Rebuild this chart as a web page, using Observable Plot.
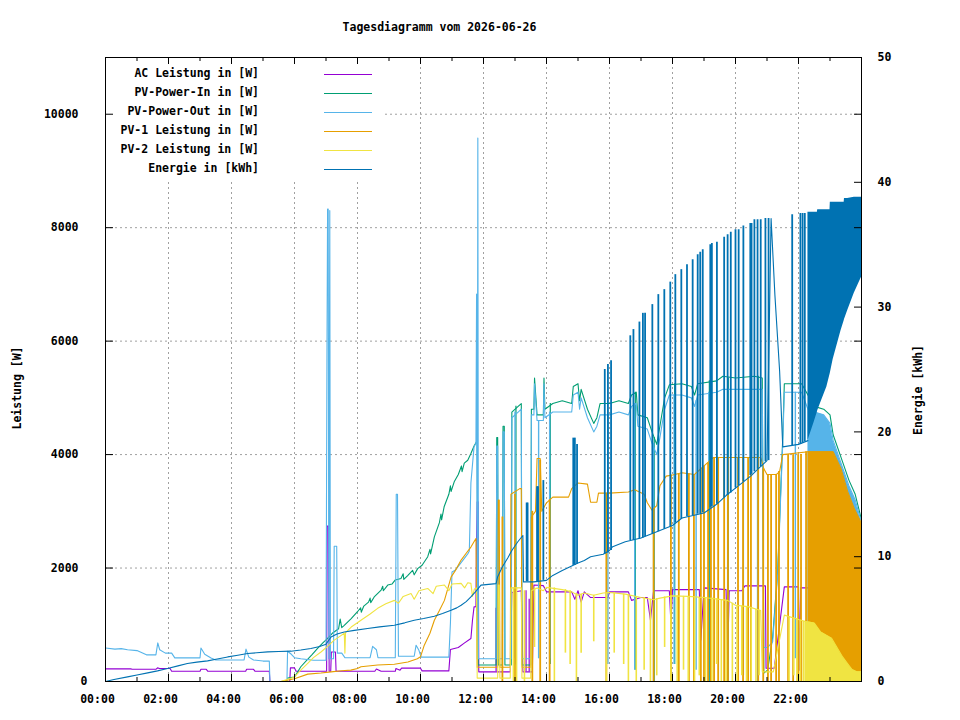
<!DOCTYPE html>
<html><head><meta charset="utf-8">
<script src="https://cdn.jsdelivr.net/npm/d3@7"></script>
<script src="https://cdn.jsdelivr.net/npm/@observablehq/plot@0.6"></script>
<style>
html,body{margin:0;padding:0;background:#fff;overflow:hidden;}
#wrap{position:relative;width:960px;height:720px;font-family:"DejaVu Sans Mono",monospace;font-weight:bold;font-size:11.5px;color:#000;}
#wrap svg{position:absolute;left:0;top:0;}
.lbl{position:absolute;white-space:pre;line-height:12px;}
#keybox{position:absolute;left:105px;top:57px;width:278px;height:123px;background:#fff;}
.ksw{position:absolute;height:1px;}
</style></head><body><div id="wrap"></div>
<script>
// ---------- labels ----------
const title = "Tagesdiagramm vom 2026-06-26";
const yLabel = "Leistung [W]";
const y2Label = "Energie [kWh]";
const seriesNames = ["AC Leistung in [W]","PV-Power-In in [W]","PV-Power-Out in [W]","PV-1 Leistung in [W]","PV-2 Leistung in [W]","Energie in [kWh]"];
const seriesColors = ["#9400d3","#009e73","#56b4e9","#e69f00","#f0e442","#0072b2"];

// ---------- ticks ----------
const xMajor = [0,2,4,6,8,10,12,14,16,18,20,22];
const xMinor = [1,3,5,7,9,11,13,15,17,19,21,23];
const xTickLabels = ["00:00","02:00","04:00","06:00","08:00","10:00","12:00","14:00","16:00","18:00","20:00","22:00"];
const yTicks = [0,2000,4000,6000,8000,10000];
const y2Ticks = [0,10,20,30,40,50];
const yMax = 11000, y2Max = 50;

// ---------- data: [hour, W] ----------
const acLine = [[0,222],[0.8,222],[0.85,215],[1.6,215],[1.65,240],[1.72,230],[2.05,230],[2.1,180],[3.0,180],[3.03,215],[3.2,215],[3.25,180],[4.45,180],[4.48,215],[4.7,215],[4.75,180],[5.2,180],[5.22,0],[5.85,0],[5.87,240],[6.0,240],[6.05,180],[7.02,180],[7.04,2740],[7.08,2740],[7.1,180],[7.15,180],[7.17,520],[7.3,520],[7.32,180],[8.55,180],[8.6,220],[8.75,180],[9.2,180],[9.22,230],[9.35,200],[9.4,235],[10.0,235],[10.05,187],[10.9,187],[10.95,564],[11.2,600],[11.4,680],[11.6,758],[11.65,1080],[11.7,1315],[11.76,1320],[11.78,2520],[11.8,3166],[11.83,3166],[11.85,170],[12.85,170],[12.9,1570],[13.2,1600],[13.25,170],[13.55,170],[13.6,1700],[13.9,1690],[14.0,1580],[14.8,1580],[14.9,1450],[15.0,1600],[15.1,1400],[15.2,1580],[15.4,1480],[15.95,1480],[16.0,1580],[16.6,1580],[16.7,1430],[17.0,1480],[17.2,1480],[17.3,1080],[17.4,1600],[17.9,1600],[17.95,1030],[18.0,1620],[18.85,1620],[18.9,730],[19.0,1650],[19.7,1620],[19.75,375],[19.8,1600],[20.2,1600],[20.3,1685],[20.95,1685],[20.97,234],[21.23,234],[21.55,1668],[22.0,1668],[22.03,200],[22.07,1650],[22.45,1650],[22.5,1300],[22.55,1650],[22.7,1650]];
const acSpikes = [[12.4,170,1290],[13.35,170,1600],[13.45,170,1450]];

const pvInLine = [[5.78,60],[6.0,80],[6.2,260],[6.4,380],[6.55,470],[6.74,590],[6.9,680],[7.05,760],[7.2,850],[7.4,930],[7.45,1100],[7.5,950],[7.58,990],[7.8,1110],[8.0,1230],[8.1,1300],[8.12,1220],[8.2,1330],[8.35,1400],[8.4,1470],[8.42,1390],[8.53,1490],[8.75,1610],[8.8,1680],[8.82,1600],[8.96,1700],[9.1,1720],[9.2,1790],[9.38,1815],[9.45,1900],[9.47,1800],[9.6,1870],[9.75,1960],[9.8,1880],[9.91,1990],[10.05,2050],[10.23,2200],[10.3,2330],[10.32,2250],[10.44,2550],[10.6,2800],[10.65,2950],[10.67,2850],[10.75,3080],[10.9,3300],[10.95,3450],[10.97,3350],[11.07,3520],[11.2,3650],[11.3,3800],[11.32,3700],[11.39,3850],[11.5,3900],[11.6,4020],[11.7,4150],[11.8,4250],[11.83,290],[12.4,290],[12.42,4300],[12.45,4300],[12.47,290],[12.6,290],[12.62,4500],[12.66,4500],[12.68,290],[12.88,290],[12.9,4750],[13.1,4850],[13.2,4900],[13.22,290],[13.5,290],[13.52,4800],[13.6,4800],[13.62,5350],[13.7,4700],[13.9,4700],[13.92,5350],[13.95,4800],[14.2,4900],[14.5,4950],[14.8,4900],[14.85,5200],[15.0,5250],[15.05,4950],[15.1,5150],[15.3,4800],[15.5,4550],[15.6,4650],[15.7,4900],[16.0,4900],[16.3,4950],[16.6,4900],[16.7,5050],[16.85,5100],[16.9,4700],[17.2,4650],[17.35,4400],[17.5,4180],[17.6,4500],[17.75,5000],[17.9,5230],[18.3,5250],[18.6,5200],[18.7,5050],[18.8,5250],[19.4,5300],[19.6,5380],[20.0,5350],[20.6,5380],[20.85,5350],[20.9,150],[21.02,200],[21.18,780],[21.34,1960],[21.42,3140],[21.5,4300],[21.55,5250],[22.1,5250],[22.3,5050],[22.5,4850],[22.8,4800],[23.0,4700],[23.1,4350],[23.35,3950],[23.6,3550],[23.8,3300],[24,2850]];
const pvInDrops = [[13.03,290,4850],[14.12,300,4900],[16.82,200,5100],[17.42,0,4300],[18.07,300,5250],[19.17,0,5300],[19.77,0,5350],[20.72,0,5380]];

const pvOutLine = [[0,590],[0.3,570],[0.5,580],[0.7,560],[1.0,545],[1.3,470],[1.6,470],[1.66,680],[1.72,560],[1.9,500],[2.1,500],[2.2,416],[3.0,416],[3.03,590],[3.15,480],[3.35,416],[3.5,380],[4.4,380],[4.46,570],[4.55,430],[4.7,380],[5.0,360],[5.2,360],[5.22,0],[5.76,0],[5.78,534],[5.9,480],[6.0,420],[6.2,400],[6.6,375],[7.0,375],[7.03,5700],[7.05,8330],[7.07,8330],[7.09,400],[7.12,8300],[7.14,400],[7.24,400],[7.26,2385],[7.34,2385],[7.36,500],[7.5,500],[7.6,420],[8.4,420],[8.48,620],[8.6,560],[8.65,420],[9.2,420],[9.23,3300],[9.27,3300],[9.3,445],[9.8,445],[9.86,640],[9.95,550],[10.02,430],[10.9,430],[10.95,1030],[11.0,1930],[11.1,1960],[11.35,2140],[11.5,2250],[11.55,2300],[11.6,3500],[11.7,4140],[11.76,4200],[11.78,6830],[11.8,400],[11.82,9580],[11.84,400],[12.4,400],[12.42,4150],[12.45,4150],[12.47,400],[12.6,400],[12.62,4400],[12.66,4400],[12.68,400],[12.88,400],[12.9,4650],[13.1,4750],[13.2,4800],[13.22,400],[13.5,400],[13.52,4700],[13.6,4700],[13.62,5250],[13.7,4600],[13.9,4600],[13.92,5250],[13.95,4650],[14.2,4750],[14.5,4750],[14.8,4750],[14.85,5050],[15.0,5100],[15.05,4800],[15.1,5000],[15.3,4650],[15.5,4400],[15.6,4500],[15.7,4700],[16.0,4700],[16.3,4750],[16.6,4700],[16.7,4850],[16.85,4900],[16.9,4500],[17.2,4450],[17.35,4200],[17.5,4000],[17.6,4300],[17.75,4800],[17.9,5050],[18.3,5050],[18.6,5000],[18.7,4850],[18.8,5050],[19.4,5100],[19.6,5150],[20.0,5150],[20.6,5150],[20.85,5150],[20.9,600],[21.02,600],[21.18,700],[21.34,1900],[21.42,3050],[21.5,4200],[21.55,5100],[22.1,5100],[22.3,4800],[22.5,4750],[22.8,4700],[23.0,4550],[23.1,4250],[23.35,3850],[23.6,3450],[23.8,3200],[24,2800]];
const pvOutDrops = [[13.0,400,4750],[13.75,400,4600],[14.1,400,4750],[15.95,300,4700],[16.8,200,4900],[17.4,0,4200],[18.05,300,5050],[18.75,200,4950],[19.15,0,5100],[19.75,0,5150],[20.25,100,5150],[20.7,0,5150],[21.9,400,5100]];

const pv1Line = [[5.57,0],[6.0,50],[6.42,130],[6.84,150],[7.16,170],[7.5,190],[7.79,200],[8.0,230],[8.11,260],[8.64,290],[9.17,305],[9.6,345],[9.9,400],[10.0,435],[10.12,640],[10.3,850],[10.44,1080],[10.6,1250],[10.76,1430],[10.97,1840],[11.1,1950],[11.29,2140],[11.45,2260],[11.6,2370],[11.76,2520],[11.8,250],[12.45,250],[12.47,3200],[12.5,3200],[12.52,250],[12.85,250],[12.87,3300],[13.15,3400],[13.2,3400],[13.22,250],[13.5,250],[13.52,2900],[13.65,3000],[13.7,3930],[13.8,3930],[13.85,3000],[14.0,3150],[14.2,3250],[14.7,3250],[14.8,3400],[15.0,3500],[15.3,3480],[15.4,3160],[15.6,3160],[15.65,3320],[16.0,3320],[16.6,3340],[16.8,3380],[17.1,3300],[17.2,3150],[17.35,3020],[17.5,3100],[17.6,3450],[17.8,3620],[18.0,3640],[18.3,3680],[18.7,3650],[18.9,3750],[19.1,3850],[19.3,3950],[20.0,3950],[20.8,3950],[20.9,3750],[21.0,3650],[21.3,3650],[21.4,3700],[21.5,4000],[22.3,4050],[23.1,4050],[23.35,3750],[23.56,3350],[23.77,3050],[24,2790]];
const pv1Drops = [[12.6,0,2900],[13.0,0,3300],[13.55,0,3000],[13.8,0,3900],[14.1,0,3200],[15.9,0,3320],[17.4,0,3050],[17.95,0,3640],[18.2,0,3650],[18.52,0,3660],[18.68,0,3650],[18.9,0,3750],[19.0,0,3800],[19.13,0,3850],[19.22,0,3900],[19.32,0,3950],[19.45,0,3950],[19.64,0,3950],[19.76,0,3950],[20.08,0,3950],[20.24,0,3950],[20.4,0,3950],[20.49,0,3950],[20.72,0,3950],[20.88,0,3750],[21.03,0,3650],[21.13,0,3650],[21.29,0,3650],[21.38,0,3700],[21.67,0,4000],[21.83,0,4000],[21.99,0,4000],[22.08,0,4000],[22.24,0,4050]];

const pv2Line = [[5.57,0],[6.0,80],[6.2,200],[6.42,320],[6.6,420],[6.84,520],[7.05,620],[7.26,730],[7.45,800],[7.58,850],[7.6,500],[7.62,860],[7.8,960],[8.11,1080],[8.4,1190],[8.64,1290],[8.9,1370],[9.17,1430],[9.3,1380],[9.45,1500],[9.7,1550],[9.8,1450],[9.95,1600],[10.23,1640],[10.4,1550],[10.5,1680],[10.76,1700],[10.9,1600],[11.0,1720],[11.29,1730],[11.4,1650],[11.5,1740],[11.6,1730],[11.65,1500],[11.71,1630],[11.78,1650],[11.8,60],[12.45,60],[12.47,1700],[12.5,1700],[12.52,60],[12.85,60],[12.87,1650],[13.2,1650],[13.22,60],[13.5,60],[13.52,1600],[13.7,1650],[13.9,1600],[14.0,1660],[14.5,1620],[14.8,1580],[15.0,1520],[15.2,1560],[15.5,1520],[15.8,1560],[16.0,1570],[16.5,1540],[17.0,1480],[17.4,1440],[17.6,1470],[18.0,1510],[18.5,1500],[19.0,1480],[19.75,1430],[20.0,1345],[20.4,1320],[20.8,1250],[20.85,170],[21.2,170],[21.55,1170],[22.08,1080],[22.2,1060],[22.5,1030],[22.7,875],[23.05,763],[23.2,620],[23.4,433],[23.55,322],[23.7,211],[23.85,170],[24,170]];
const pv2Drops = [[12.95,0,1650],[13.05,0,1650],[13.3,0,1600],[13.62,600,1650],[14.25,0,1650],[14.6,500,1620],[14.75,300,1600],[14.95,0,1550],[15.1,500,1540],[15.5,700,1520],[15.9,0,1560],[16.15,500,1570],[16.45,300,1540],[16.6,0,1530],[16.85,0,1500],[17.1,200,1480],[17.3,0,1450],[17.5,100,1460],[17.75,600,1490],[17.95,0,1510],[18.15,0,1510],[18.35,200,1500],[18.5,0,1500],[18.7,0,1490],[18.85,100,1480],[19.05,0,1480],[19.25,0,1470],[19.4,300,1460],[19.55,0,1440],[19.7,0,1430],[19.9,0,1380],[20.05,0,1345],[20.2,100,1330],[20.35,0,1320],[20.5,0,1300],[20.65,0,1270],[20.75,100,1250],[21.7,0,1140],[21.85,100,1120],[21.95,0,1100],[22.05,0,1080],[22.15,0,1060]];

// ---------- data: [hour, kWh] ----------
const enLine = [[0,0],[0.27,0.16],[0.7,0.37],[1.0,0.52],[1.34,0.69],[1.65,0.85],[1.97,1.04],[2.3,1.25],[2.6,1.44],[2.9,1.55],[3.24,1.65],[3.55,1.8],[3.88,1.97],[4.2,2.1],[4.51,2.24],[4.8,2.3],[5.15,2.37],[5.5,2.4],[5.89,2.43],[6.2,2.52],[6.52,2.64],[6.8,2.8],[7.0,2.99],[7.16,3.57],[7.35,3.8],[7.58,3.97],[7.9,4.1],[8.32,4.25],[8.7,4.38],[9.17,4.51],[9.5,4.7],[9.8,4.91],[10.1,5.05],[10.44,5.23],[10.7,5.45],[10.97,5.71],[11.15,5.9],[11.29,6.11],[11.45,6.4],[11.6,6.78],[11.75,7.2],[11.92,7.72],[12.4,7.84],[12.45,8.4],[12.6,9.2],[12.77,9.9],[12.9,10.5],[13.09,11.2],[13.25,11.7],[13.27,7.98],[13.6,7.98],[14.0,8.1],[14.2,8.5],[14.5,8.9],[14.75,9.2],[15.0,9.5],[15.2,9.7],[15.4,10.0],[15.8,10.2],[16.0,10.5],[16.1,10.8],[16.5,11.2],[17.0,11.5],[17.3,11.8],[17.6,12.1],[18.0,12.5],[18.3,13.1],[19.0,13.5],[19.4,14.2],[19.7,14.9],[20.1,15.7],[20.5,16.5],[20.7,17.0],[21.0,17.7],[21.13,37.1],[21.25,31.0],[21.4,24.9],[21.5,18.8],[22.0,19.0],[22.3,19.3]];
const enSpikes = [[13.37,8.0,14.3],[13.4,8.0,14.3],[13.7,8.0,15.6],[13.73,8.0,15.6],[13.9,8.1,16.1],[14.85,9.3,19.5],[14.9,9.3,19.5],[14.97,9.4,19.0],[15.85,10.2,25.0],[15.95,10.3,25.4],[16.05,10.5,25.7],[16.66,11.3,27.7],[16.76,11.3,28.2],[16.95,11.4,28.8],[17.06,11.5,29.5],[17.13,11.6,29.5],[17.36,11.8,30.2],[17.55,12.0,31.0],[17.74,12.2,31.4],[17.93,12.4,32.0],[18.09,12.7,32.6],[18.28,13.0,33.0],[18.46,13.2,33.4],[18.64,13.3,33.8],[18.8,13.4,34.2],[18.88,13.4,34.4],[18.96,13.5,34.6],[19.2,13.9,35.0],[19.25,14.0,35.1],[19.41,14.2,35.2],[19.64,14.7,35.6],[19.75,14.9,35.8],[19.85,15.1,36.0],[20.0,15.5,36.2],[20.1,15.7,36.2],[20.25,16.0,36.5],[20.47,16.5,36.7],[20.51,16.6,36.7],[20.6,16.8,37.0],[20.7,17.0,37.0],[20.8,17.2,37.0],[20.95,17.6,37.1],[21.05,17.7,37.1],[21.8,18.9,37.4],[22.06,19.0,37.5],[22.13,19.1,37.5],[22.2,19.2,37.5]];
const enBand = [[22.3,19.3,37.6],[22.5,20.8,37.6],[22.6,21.6,37.6],[22.61,21.7,37.8],[22.7,22.3,37.8],[22.9,23.6,37.8],[23.0,24.6,37.8],[23.01,24.7,38.4],[23.1,25.8,38.4],[23.35,28.1,38.4],[23.45,28.9,38.4],[23.46,29.0,38.7],[23.56,29.7,38.7],[23.77,31.1,38.8],[24.0,32.4,38.8]];

// ---------- layout ----------
const W = 960, H = 720, mL = 105, mR = 99, mT = 57, mB = 39;
const innerW = W - mL - mR, innerH = H - mT - mB;
const K = yMax / y2Max; // right-axis kWh -> left-axis W
const FONT = {fontFamily: "DejaVu Sans Mono", fontWeight: "bold", fontSize: 11.5};
const base = {
  width: W, height: H, marginLeft: mL, marginRight: mR, marginTop: mT, marginBottom: mB,
  x: {domain: [0, 24], axis: null}, y: {domain: [0, yMax], axis: null},
  style: {background: "transparent", color: "black", fontFamily: "DejaVu Sans Mono", fontWeight: "bold", fontSize: "11.5px"}
};
const X = d => d[0], V = d => d[1];
const gridStyle = {stroke: "#a0a0a0", strokeWidth: 1, strokeDasharray: "2,3"};

const gridPlot = Plot.plot({...base, marks: [
  Plot.ruleY(yTicks.filter(d => d > 0), {y: d => d, ...gridStyle}),
  Plot.ruleX(xMajor.filter(d => d > 0), {x: d => d, ...gridStyle})
]});

const lw = 1.1;
const lineOf = (data, c, yf = V) => Plot.line(data, {x: X, y: yf, stroke: c, strokeWidth: lw});
const dropsOf = (data, c, k = 1, w = 1.6) => Plot.ruleX(data, {x: X, y1: d => d[1] * k, y2: d => d[2] * k, stroke: c, strokeWidth: w});
const [cAC, cIn, cOut, cP1, cP2, cEn] = seriesColors;

const mainPlot = Plot.plot({...base, marks: [
  lineOf(acLine, cAC), dropsOf(acSpikes, cAC, 1, 1.2),
  lineOf(pvInLine, cIn), dropsOf(pvInDrops, cIn, 1, 1.2),
  Plot.areaY(pvOutLine.filter(d => d[0] >= 22.3), {x: X, y: V, fill: cOut}),
  lineOf(pvOutLine, cOut), dropsOf(pvOutDrops, cOut, 1, 1.4),
  Plot.areaY(pv1Line.filter(d => d[0] >= 22.3), {x: X, y: V, fill: cP1}),
  lineOf(pv1Line, cP1), dropsOf(pv1Drops, cP1, 1, 1.8),
  Plot.areaY(pv2Line.filter(d => d[0] >= 22.2), {x: X, y: V, fill: cP2}),
  lineOf(pv2Line, cP2), dropsOf(pv2Drops, cP2, 1, 1.6),
  lineOf(enLine, cEn, d => d[1] * K), dropsOf(enSpikes, cEn, K, 1.8),
  Plot.areaY(enBand, {x: X, y1: d => d[1] * K, y2: d => d[2] * K, fill: cEn}),
  Plot.frame({stroke: "black", strokeWidth: 1}),
  Plot.tickX(xMajor.concat([24]), {x: d => d, insetTop: innerH - 7, stroke: "black"}),
  Plot.tickX(xMajor.concat([24]), {x: d => d, insetBottom: innerH - 7, stroke: "black"}),
  Plot.tickX(xMinor, {x: d => d, insetTop: innerH - 4, stroke: "black"}),
  Plot.tickX(xMinor, {x: d => d, insetBottom: innerH - 4, stroke: "black"}),
  Plot.tickY(yTicks, {y: d => d, insetRight: innerW - 8, stroke: "black"}),
  Plot.tickY(yTicks, {y: d => d, insetLeft: innerW - 7, stroke: "black"}),
  Plot.tickY(y2Ticks.map(d => d * K), {y: d => d, insetLeft: innerW - 7, stroke: "black"}),
  Plot.axisX({ticks: xMajor, tickFormat: d => xTickLabels[xMajor.indexOf(d)], tickSize: 0, tickPadding: 13, dx: -8, label: null, fill: "black", ...FONT}),
  Plot.axisY({anchor: "left", ticks: yTicks.filter(d => d > 0), tickFormat: d => String(d), tickSize: 0, tickPadding: 27, label: null, fill: "black", ...FONT}),
  Plot.axisY({anchor: "left", ticks: [0], tickFormat: d => String(d), tickSize: 0, tickPadding: 18, label: null, fill: "black", ...FONT}),
  Plot.axisY({anchor: "right", ticks: y2Ticks.map(d => d * K), tickFormat: d => String(Math.round(d / K)), tickSize: 0, tickPadding: 16, label: null, fill: "black", ...FONT})
]});

// ---------- assemble ----------
const wrap = document.getElementById("wrap");
wrap.appendChild(gridPlot);
const keybox = document.createElement("div"); keybox.id = "keybox"; wrap.appendChild(keybox);
wrap.appendChild(mainPlot);

function addText(txt, css) {
  const d = document.createElement("div");
  d.className = "lbl"; d.textContent = txt;
  Object.assign(d.style, css);
  wrap.appendChild(d);
  return d;
}
addText(title, {left: "0px", width: "879px", textAlign: "center", top: "20.5px"});
addText(yLabel, {left: "17px", top: "388px", transform: "translate(-50%,-50%) rotate(-90deg)"});
addText(y2Label, {left: "918px", top: "390px", transform: "translate(-50%,-50%) rotate(-90deg)"});
seriesNames.forEach((name, i) => {
  addText(name, {left: "0px", width: "259px", textAlign: "right", top: (66.5 + 19 * i) + "px"});
  const s = document.createElement("div");
  s.className = "ksw";
  Object.assign(s.style, {left: "324px", width: "48px", top: (74 + 19 * i) + "px", background: seriesColors[i]});
  wrap.appendChild(s);
});
</script></body></html>
